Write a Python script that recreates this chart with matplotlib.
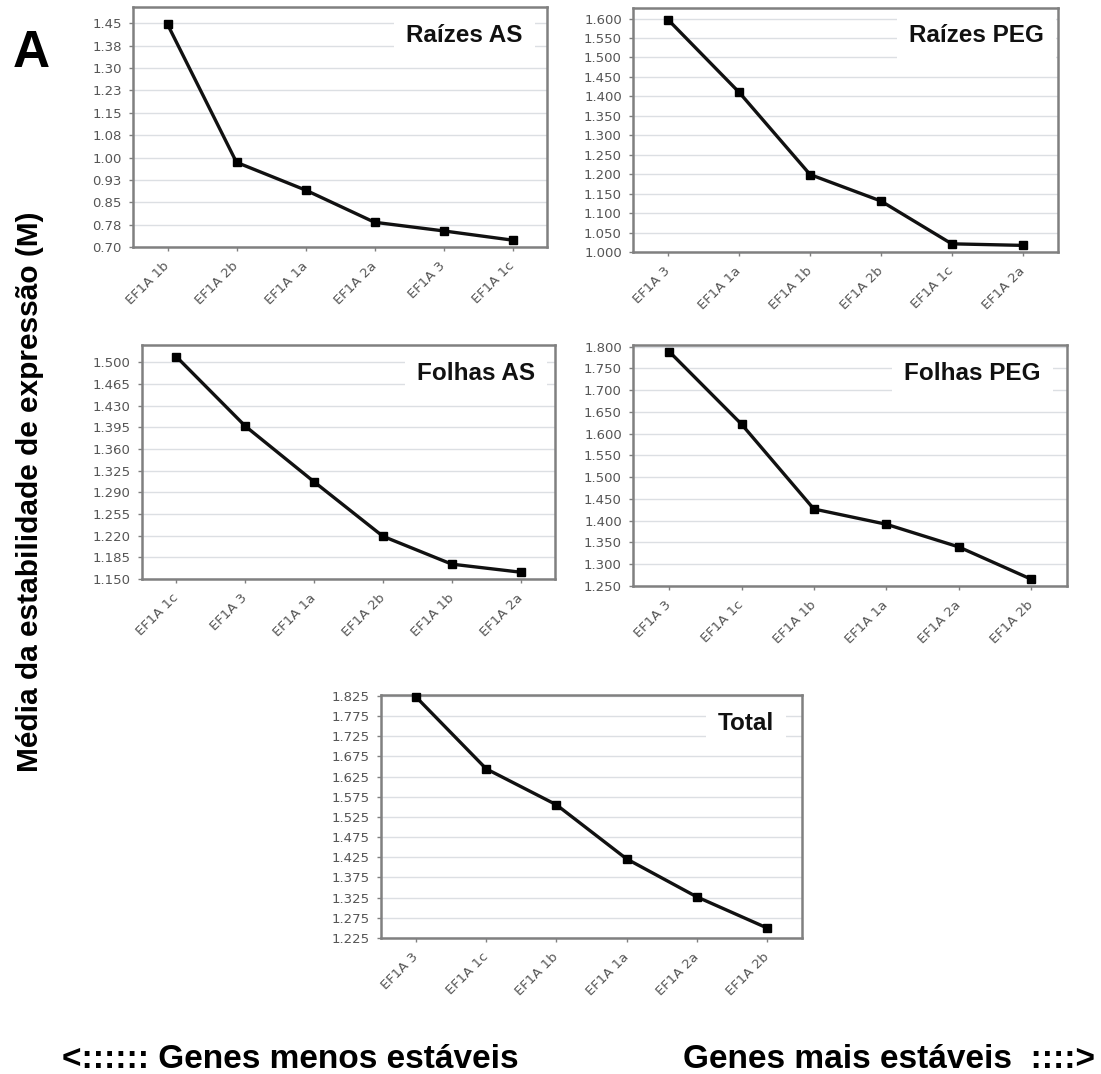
import matplotlib
matplotlib.use("Agg")
import matplotlib.pyplot as plt

W, H = 1101, 1074

# ---------------- data ----------------
cats_raizes_as = ['EF1A 1b', 'EF1A 2b', 'EF1A 1a', 'EF1A 2a', 'EF1A 3', 'EF1A 1c']
m_raizes_as = [1.447, 0.984, 0.891, 0.783, 0.754, 0.723]
ticks_raizes_as = [0.70, 0.775, 0.85, 0.925, 1.00, 1.075, 1.15, 1.225, 1.30, 1.375, 1.45]
labels_raizes_as = ['0.70', '0.78', '0.85', '0.93', '1.00', '1.08', '1.15', '1.23', '1.30', '1.38', '1.45']

cats_raizes_peg = ['EF1A 3', 'EF1A 1a', 'EF1A 1b', 'EF1A 2b', 'EF1A 1c', 'EF1A 2a']
m_raizes_peg = [1.596, 1.410, 1.199, 1.131, 1.021, 1.017]
labels_raizes_peg = ['1.000', '1.050', '1.100', '1.150', '1.200', '1.250', '1.300',
                     '1.350', '1.400', '1.450', '1.500', '1.550', '1.600']

cats_folhas_as = ['EF1A 1c', 'EF1A 3', 'EF1A 1a', 'EF1A 2b', 'EF1A 1b', 'EF1A 2a']
m_folhas_as = [1.509, 1.397, 1.307, 1.219, 1.174, 1.161]
labels_folhas_as = ['1.150', '1.185', '1.220', '1.255', '1.290', '1.325', '1.360',
                    '1.395', '1.430', '1.465', '1.500']

cats_folhas_peg = ['EF1A 3', 'EF1A 1c', 'EF1A 1b', 'EF1A 1a', 'EF1A 2a', 'EF1A 2b']
m_folhas_peg = [1.789, 1.622, 1.427, 1.392, 1.340, 1.266]
labels_folhas_peg = ['1.250', '1.300', '1.350', '1.400', '1.450', '1.500', '1.550',
                     '1.600', '1.650', '1.700', '1.750', '1.800']

cats_total = ['EF1A 3', 'EF1A 1c', 'EF1A 1b', 'EF1A 1a', 'EF1A 2a', 'EF1A 2b']
m_total = [1.822, 1.644, 1.555, 1.421, 1.327, 1.250]
labels_total = ['1.225', '1.275', '1.325', '1.375', '1.425', '1.475', '1.525',
                '1.575', '1.625', '1.675', '1.725', '1.775', '1.825']

titles = ['Raízes AS', 'Raízes PEG', 'Folhas AS', 'Folhas PEG', 'Total']

# ---------------- layout (pixels) ----------------
panels = [
    dict(box=(133, 7, 547, 247), ylim=(0.70, 1.505), tr=24, tb=35,
         cats=cats_raizes_as, vals=m_raizes_as, ticks=ticks_raizes_as, labels=labels_raizes_as),
    dict(box=(633, 8, 1058, 252), ylim=(1.000, 1.627), tr=14, tb=34,
         cats=cats_raizes_peg, vals=m_raizes_peg, ticks=[float(s) for s in labels_raizes_peg],
         labels=labels_raizes_peg),
    dict(box=(142, 345, 555, 579), ylim=(1.150, 1.528), tr=20, tb=35,
         cats=cats_folhas_as, vals=m_folhas_as, ticks=[float(s) for s in labels_folhas_as],
         labels=labels_folhas_as),
    dict(box=(633, 345, 1067, 586), ylim=(1.250, 1.804), tr=26, tb=35,
         cats=cats_folhas_peg, vals=m_folhas_peg, ticks=[float(s) for s in labels_folhas_peg],
         labels=labels_folhas_peg),
    dict(box=(381, 695, 802, 938), ylim=(1.225, 1.827), tr=28, tb=35,
         cats=cats_total, vals=m_total, ticks=[float(s) for s in labels_total],
         labels=labels_total),
]

fig = plt.figure(figsize=(W / 100, H / 100), dpi=100)
fig.patch.set_facecolor('white')

tick_color = '#555555'
spine_color = '#808080'
grid_color = '#dcdfe3'

for p, title in zip(panels, titles):
    x0, y0, x1, y1 = p['box']
    ax = fig.add_axes([x0 / W, 1 - y1 / H, (x1 - x0) / W, (y1 - y0) / H])
    ax.set_facecolor('white')
    xs = list(range(len(p['cats'])))
    ax.plot(xs, p['vals'], color='#111111', lw=2.4, marker='s', markersize=6,
            markerfacecolor='black', markeredgecolor='black', zorder=4, clip_on=False)
    ax.set_xlim(-0.5, len(xs) - 0.5)
    ax.set_ylim(*p['ylim'])
    ax.set_yticks(p['ticks'])
    ax.set_yticklabels(p['labels'])
    ax.set_xticks(xs)
    ax.set_xticklabels(p['cats'], rotation=45, ha='right', va='center', rotation_mode='anchor')
    ax.yaxis.grid(True, color=grid_color, lw=1.0, zorder=0)
    ax.set_axisbelow(True)
    for s in ax.spines.values():
        s.set_color(spine_color)
        s.set_linewidth(1.8)
        s.set_zorder(3)
    ax.tick_params(axis='y', direction='out', length=3, width=1, color=spine_color,
                   labelsize=9.5, labelcolor=tick_color, pad=5)
    ax.tick_params(axis='x', direction='out', length=3, width=1, color=spine_color,
                   labelsize=9.5, labelcolor=tick_color, pad=9)
    w_px = x1 - x0
    h_px = y1 - y0
    ax.text(1 - p['tr'] / w_px, 1 - p['tb'] / h_px, title, transform=ax.transAxes,
            ha='right', va='baseline', fontsize=17.5, fontweight='bold',
            family='Liberation Sans', color='#111111', zorder=2,
            bbox=dict(boxstyle='square,pad=0.5', fc='white', ec='none'))

# panel letter
fig.text(13 / W, 1 - 67 / H, 'A', fontsize=37, fontweight='bold',
         family='Liberation Sans', ha='left', va='baseline', color='black')

# shared y label
fig.text(30 / W, 1 - 492 / H, 'Média da estabilidade de expressão (M)', rotation=90,
         fontsize=21.5, fontweight='bold', family='Liberation Sans',
         ha='center', va='center', color='black')

# bottom annotations
fig.text(62 / W, 1 - 1068 / H, '<:::::: Genes menos estáveis', fontsize=24,
         fontweight='bold', family='Liberation Sans', ha='left', va='baseline')
fig.text(1095 / W, 1 - 1068 / H, 'Genes mais estáveis  ::::>', fontsize=24,
         fontweight='bold', family='Liberation Sans', ha='right', va='baseline')

fig.savefig('out.png', dpi=100, facecolor='white')
